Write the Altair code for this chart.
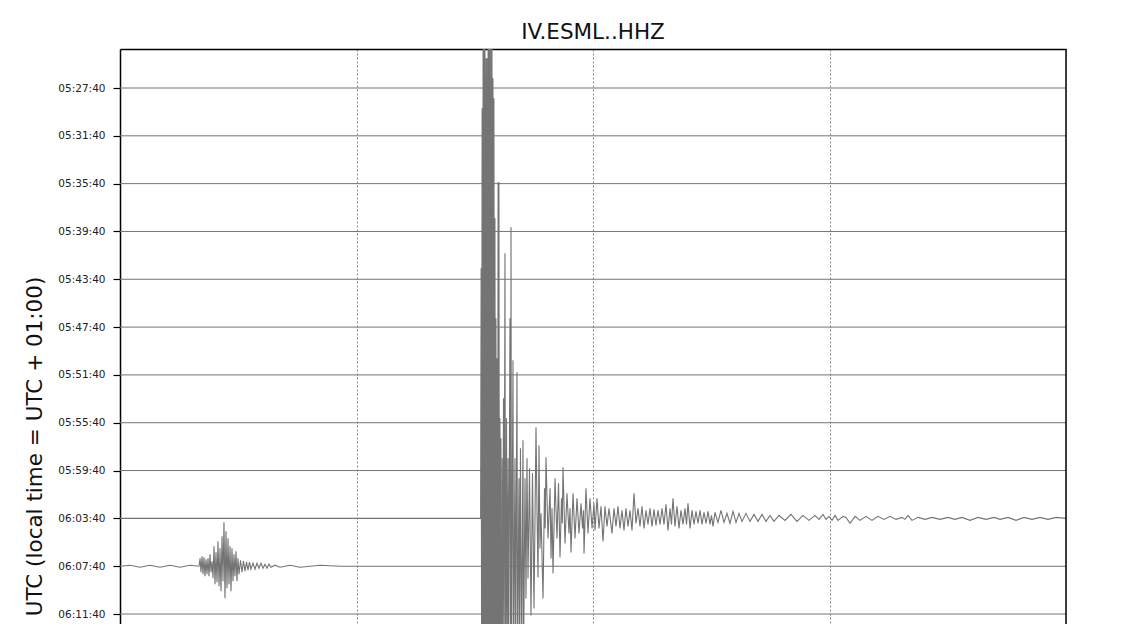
import json
import altair as alt
import pandas as pd

# ---------------- data ----------------
TITLE = "IV.ESML..HHZ"
Y_TITLE = "UTC (local time = UTC + 01:00)"
ROW_LABELS = ["05:27:40", "05:31:40", "05:35:40", "05:39:40", "05:43:40", "05:47:40",
              "05:51:40", "05:55:40", "05:59:40", "06:03:40", "06:07:40", "06:11:40"]
ROW_SECONDS = 240
COUNTS_PER_ROW = 47.8   # vertical scaling: counts that span one row spacing

# flat (quiet) rows: start / end of each 4-minute line
QUIET_T = [0, 240]
QUIET_A = [0, 0]

# row 9 (06:03:40): main earthquake, seconds / counts
EQ_T = [0, 91.59, 91.72, 91.84, 91.97, 92.10, 92.22, 92.35, 92.48, 92.61, 92.73, 92.86,
        92.99, 93.11, 93.24, 93.37, 93.49, 93.62, 93.75, 93.87, 94.00, 94.13, 94.26,
        94.38, 94.51, 94.64, 94.76, 94.89, 95.02, 95.14, 95.27, 95.40, 95.52, 95.65,
        95.78, 95.90, 96.03, 96.16, 96.29, 96.41, 96.54, 96.67, 96.92, 97.04, 97.30,
        97.42, 97.67, 97.80, 98.06, 98.18, 98.44, 98.56, 98.94, 99.07, 99.20, 99.32,
        99.70, 99.83, 100.21, 100.34, 100.72, 100.84, 101.22, 101.35, 101.60, 101.86,
        102.24, 102.37, 102.75, 103.00, 103.25, 103.51, 103.89, 104.27, 104.65, 105.03,
        105.54, 105.79, 106.05, 106.30, 106.55, 106.81, 107.32, 107.70, 107.87, 108.08,
        108.59, 109.10, 109.35, 109.60, 109.86, 110.36, 110.87, 111.25, 111.63, 112.01,
        112.21, 112.39, 112.90, 113.40, 113.91, 114.17, 114.42, 114.93, 115.43, 115.94,
        116.45, 116.96, 117.34, 117.59, 117.72, 118.22, 118.73, 119.24, 119.75, 120.25,
        120.51, 121.01, 121.52, 122.03, 122.54, 123.04, 123.55, 124.06, 124.82, 125.33,
        125.84, 126.34, 126.85, 127.36, 127.86, 128.37, 128.88, 129.39, 129.89, 130.40,
        130.91, 131.42, 131.92, 132.43, 132.94, 133.45, 133.95, 134.46, 134.97, 135.48,
        135.98, 136.49, 137.00, 137.51, 138.01, 138.52, 139.03, 139.54, 139.91, 140.29,
        140.80, 141.31, 141.82, 142.32, 142.83, 143.34, 143.72, 144.10, 144.61, 145.12,
        145.62, 146.13, 146.64, 147.15, 147.65, 148.16, 148.67, 149.18, 149.68, 150.06,
        150.44, 150.95, 151.71, 152.47, 153.23, 153.99, 154.75, 155.52, 156.28, 157.04,
        157.80, 158.82, 159.83, 160.85, 161.86, 162.88, 163.89, 164.91, 165.92, 167.19,
        168.71, 170.23, 171.75, 173.28, 174.80, 176.32, 177.34, 178.35, 179.11, 179.88,
        180.64, 181.40, 182.16, 183.43, 184.19, 185.21, 186.48, 187.74, 189.26, 190.78,
        192.30, 193.83, 195.35, 196.87, 198.39, 199.16, 199.92, 200.93, 202.46, 204.23,
        206.00, 208.03, 210.06, 211.84, 213.62, 215.65, 217.67, 219.70, 221.73, 223.26,
        225.29, 227.32, 229.34, 231.37, 233.40, 235.43, 237.46, 240.0]
EQ_A = [0, 0, 250, -150, 410, -150, 480, -150, 480, -150, 440, -150,
        460, -150, 330, -150, 480, -150, 480, -150, 400, -150, 480,
        -150, 440, -150, 420, -150, 300, -150, 200, -150, 160, -150,
        120, -150, 336, -150, 100, -150, 80, -150, 60, -150, 120,
        -150, 265, -150, 100, -150, 60, -150, 200, -150, 291, -150,
        158, -150, 60, -150, 146, -150, 40, -130, 70, -150,
        78, -150, 40, -80, 60, -60, 50, -97, 45, -90,
        91, 10, -59, 73, -30, 5, -80, 30, -10, 61,
        -20, 30, -40, 10, -55, 40, -20, 35, -39, 20,
        -5, 51, -25, 25, -15, 10, -34, 25, -20, 20,
        -15, 15, -10, 8, -35, 30, -15, 20, -10, 15,
        -12, 20, -10, 12, -23, 12, -8, 10, -15, 10,
        -8, 12, -10, 8, -12, 10, -8, 8, -12, 25,
        -5, 10, -8, 12, -10, 8, -6, 10, -8, 9,
        -7, 8, -6, 10, -6, 14, -12, 10, -6, 20,
        -8, 12, -10, 8, -6, 10, -6, 15, -10, 8,
        -6, 7, -5, 8, -6, 6, -5, 7, -6, 3,
        -8, 6, -4, 8, -4, 5, -5, 7, -4, 5,
        -3, 5, -3, 4, -3, 4, -3, 3, -3, 3,
        -2, 4, -3, 3, -2, 3, -1, 4, -1, 2,
        -2, 3, -2, 2, 1, -5, 2, -2, 2, -2,
        2, -1, 2, -1, 1, -1, 3, -2, 1, -1,
        1, -1, 1, -1, 1, -2, 1, -1, 1, -1,
        1, -2, 1, -1, 1, -1, 1, 0]
EQ_BURST_END = 96.67   # end of the saturated first burst (drawn as a solid band)

# row 10 (06:07:40): smaller earlier event, seconds / counts
EV_T = [0, 2.54, 5.07, 7.61, 10.15, 12.69, 15.22, 17.76, 20.04, 20.30, 20.55, 20.80,
        21.06, 21.31, 21.56, 21.82, 22.07, 22.33, 22.58, 22.83, 23.09, 23.34, 23.59,
        23.85, 24.10, 24.35, 24.61, 24.86, 25.12, 25.37, 25.62, 25.88, 26.13, 26.38,
        26.64, 26.89, 27.15, 27.40, 27.65, 27.91, 28.16, 28.41, 28.67, 28.92, 29.17,
        29.43, 29.68, 29.94, 30.19, 30.57, 30.95, 31.33, 31.71, 32.09, 32.47, 32.85,
        33.23, 33.74, 34.25, 34.76, 35.26, 35.77, 36.28, 36.79, 37.29, 37.80, 38.31,
        39.32, 40.59, 43.13, 45.67, 50.74, 55.81, 240]
EV_A = [0, 1, -1, 1, -1, 1, -1, 1, 0, 8, -6, 10,
        -8, 9, -10, 7, -8, 8, -10, 12, -6, 5, -12,
        20, -18, 14, -16, 25, -20, 18, -25, 30, -15, 44,
        -32, 35, -22, 28, -18, 20, -25, 18, -15, 12, -10,
        15, -15, 8, -8, 6, -6, 5, -5, 4, -4, 4,
        -3, 3, -3, 3, -2, 3, -2, 2, -2, 2, -1,
        1, -1, 1, -1, 1, 0, 0]

GRID_SECONDS = [60, 120, 180]

# ---------------- table ----------------
frames = []


def add_series(key, row, t, a, width):
    df = pd.DataFrame({"t": t, "counts": a})
    df["row"] = row
    df["series"] = key
    df["sw"] = width
    df["order"] = range(len(df))
    frames.append(df)


for i, lab in enumerate(ROW_LABELS):
    if i == 9:
        k = EQ_T.index(EQ_BURST_END)
        add_series(lab + "-burst", i, EQ_T[1:k + 1], EQ_A[1:k + 1], 1.9)
        add_series(lab, i, EQ_T[:2], EQ_A[:2], 1.1)
        add_series(lab + "-coda", i, EQ_T[k:], EQ_A[k:], 1.1)
    elif i == 10:
        add_series(lab, i, EV_T, EV_A, 1.1)
    else:
        add_series(lab, i, QUIET_T, QUIET_A, 1.0)

data = pd.concat(frames, ignore_index=True)
data["yv"] = data["row"] - data["counts"] / COUNTS_PER_ROW

W, H = 946, 575
FONT = "DejaVu Sans"
y_top = -39 / 47.82
y_bottom = (H - 39) / 47.82
label_expr = json.dumps(ROW_LABELS) + "[datum.value]"

x_scale = alt.Scale(domain=[0, ROW_SECONDS], nice=False, zero=False)
y_scale = alt.Scale(domain=[y_top, y_bottom], reverse=True, nice=False, zero=False)

traces = alt.Chart(data).mark_line(
    clip=True, color="#747474", interpolate="linear"
).encode(
    x=alt.X("t:Q", scale=x_scale,
            axis=alt.Axis(orient="top", values=GRID_SECONDS, labels=False, ticks=False,
                          title=None, domain=True, domainColor="#000000", domainWidth=1.5,
                          grid=True, gridColor="#8a8a8a", gridDash=[2, 2], gridWidth=1)),
    y=alt.Y("yv:Q", scale=y_scale,
            axis=alt.Axis(values=list(range(len(ROW_LABELS))), labelExpr=label_expr,
                          grid=False, domain=True, domainColor="#000000", domainWidth=1.5,
                          tickColor="#000000", tickSize=7, tickWidth=1.2,
                          labelFont=FONT, labelFontSize=10.5, labelColor="#222222",
                          labelPadding=8,
                          title=Y_TITLE, titleFont=FONT, titleFontSize=21.5,
                          titleFontWeight="normal", titleColor="#111111",
                          titleAngle=270, titleAlign="center", titleBaseline="middle",
                          titleX=-85, titleY=397)),
    strokeWidth=alt.StrokeWidth("sw:Q", scale=None, legend=None),
    detail="series:N",
    order="order:Q",
)

right_frame = alt.Chart(pd.DataFrame({"k": [0]})).mark_rule(
    color="#000000", strokeWidth=1.5
).encode(x=alt.value(W), y=alt.value(0), y2=alt.value(H))

chart = alt.layer(traces, right_frame).properties(
    width=W, height=H,
    title=alt.TitleParams(TITLE, font=FONT, fontSize=21.5, fontWeight="normal",
                          color="#111111", anchor="middle", frame="group",
                          baseline="alphabetic", offset=8, dy=20),
    autosize=alt.AutoSizeParams(type="none"),
    padding={"left": 112, "top": 41, "right": 55, "bottom": 0},
).configure_view(stroke=None).configure(background="white")

chart.save("out.html", embed_options={"renderer": "svg", "actions": False})
